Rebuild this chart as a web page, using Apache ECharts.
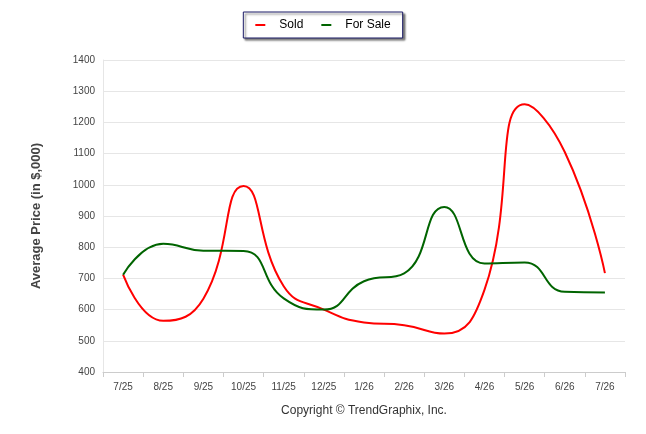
<!DOCTYPE html>
<html>
<head>
<meta charset="utf-8">
<script src="https://cdn.jsdelivr.net/npm/echarts@6/dist/echarts.min.js"></script>
<style>
  html, body { margin: 0; padding: 0; background: #fff; }
  #chart { width: 646px; height: 434px; }
</style>
</head>
<body>
<div id="chart"></div>
<script>
// months shown on the x axis
var months = ['7/25', '8/25', '9/25', '10/25', '11/25', '12/25', '1/26', '2/26', '3/26', '4/26', '5/26', '6/26', '7/26'];
var sold = [712, 564, 635, 996, 675, 600, 559, 550, 523, 663, 1258, 1105, 717];
var forSale = [712, 811, 789, 788, 636, 600, 691, 716, 929, 748, 751, 657, 655];

var chart = echarts.init(document.getElementById('chart'));

function lineSeries(name, data, color) {
    return {
        name: name,
        type: 'line',
        data: data,
        smooth: 0.5,
        symbol: 'circle',
        symbolSize: 1,
        showAllSymbol: true,
        lineStyle: { color: color, width: 2 },
        itemStyle: { color: color, opacity: 0 },
        label: {
            show: true,
            position: 'top',
            distance: 3,
            color: '#000',
            fontWeight: 'bold',
            fontSize: 11,
            fontFamily: 'Arial, Liberation Sans, sans-serif'
        }
    };
}

chart.setOption({
    animation: false,
    textStyle: { fontFamily: 'Arial, Liberation Sans, sans-serif' },
    legend: {
        top: 12,
        left: 'center',
        data: ['Sold', 'For Sale'],
        icon: 'path://M0,0 H10 V2 H0 Z',
        itemWidth: 28,
        itemHeight: 2,
        itemGap: 18,
        padding: [7, 12],
        borderColor: '#1a1a66',
        borderWidth: 1,
        shadowColor: 'rgba(0,0,0,0.5)',
        shadowBlur: 2,
        shadowOffsetX: 2,
        shadowOffsetY: 2,
        backgroundColor: '#fff',
        itemStyle: { opacity: 1 },
        textStyle: { fontSize: 12, color: '#000' }
    },
    grid: { left: 103, right: 21, top: 60, bottom: 62 },
    xAxis: {
        type: 'category',
        data: months,
        boundaryGap: true,
        axisLine: { lineStyle: { color: '#ccc' } },
        axisTick: { show: true, lineStyle: { color: '#ccc' } },
        axisLabel: { color: '#444', fontSize: 10, margin: 10 },
        name: 'Copyright © TrendGraphix, Inc.',
        nameLocation: 'middle',
        nameGap: 33,
        nameTextStyle: { color: '#333', fontSize: 12 }
    },
    yAxis: {
        type: 'value',
        min: 400,
        max: 1400,
        interval: 100,
        axisLine: { show: true, lineStyle: { color: '#e6e6e6' } },
        axisLabel: { color: '#444', fontSize: 10, formatter: function (v) { return String(v); } },
        splitLine: { lineStyle: { color: '#e6e6e6' } },
        name: 'Average Price (in $,000)',
        nameLocation: 'middle',
        nameGap: 60,
        nameTextStyle: { color: '#444', fontSize: 13, fontWeight: 'bold' }
    },
    series: [
        lineSeries('Sold', sold, '#ff0000'),
        lineSeries('For Sale', forSale, '#006400')
    ]
});
</script>
</body>
</html>
